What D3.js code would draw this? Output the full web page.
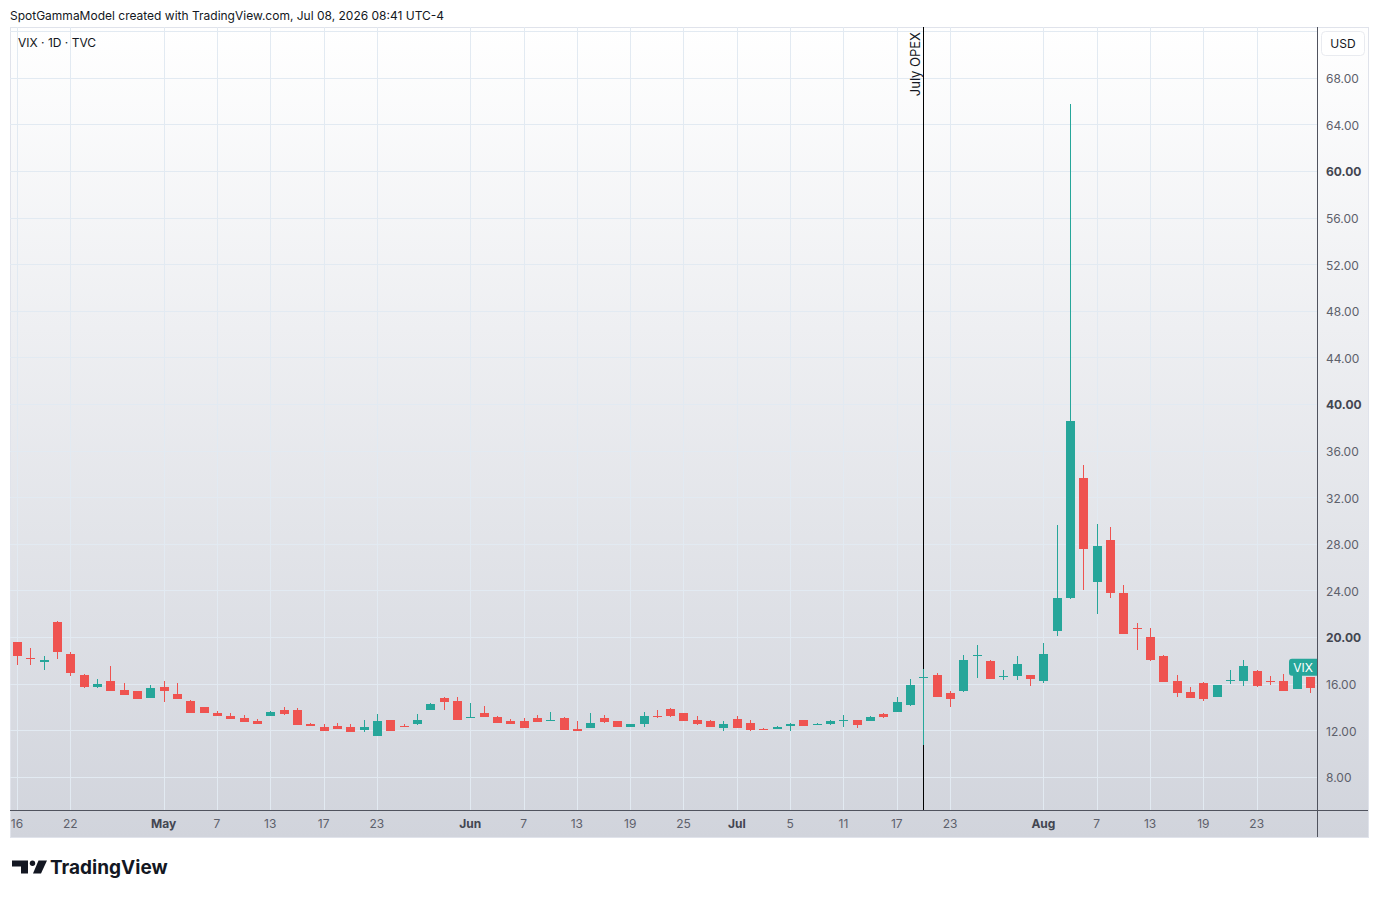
<!DOCTYPE html>
<meta charset="utf-8">
<html>
  <head>
    <title>VIX 1D TVC</title>
    <style>
      body {
        margin: 0;
        background: #ffffff;
        font-family: Inter, "Noto Sans", sans-serif;
      }
      .grid line {
        stroke: #e2eaf2;
        stroke-width: 1px;
        shape-rendering: crispEdges;
      }
      .price text {
        font-size: 12px;
        fill: #5d606b;
      }
      .price text.major {
        font-weight: 700;
        fill: #434651;
      }
      .time text {
        font-size: 12px;
        fill: #5d606b;
      }
      .time text.month {
        font-weight: 700;
        fill: #434651;
      }
      .wick {
        stroke-width: 1px;
        shape-rendering: crispEdges;
      }
      .body {
        shape-rendering: crispEdges;
      }
    </style>
  </head>

  <body>
    <script src="https://d3js.org/d3.v7.min.js"></script>
    <script>

      // bar dates (TVC daily bars)
      var dates = [
        "04-16","04-17","04-18","04-19","04-22","04-23","04-24","04-25","04-26","04-29",
        "04-30","05-01","05-02","05-03","05-06","05-07","05-08","05-09","05-10","05-13",
        "05-14","05-15","05-16","05-17","05-20","05-21","05-22","05-23","05-24","05-27",
        "05-28","05-29","05-30","05-31","06-03","06-04","06-05","06-06","06-07","06-10",
        "06-11","06-12","06-13","06-14","06-17","06-18","06-19","06-20","06-21","06-24",
        "06-25","06-26","06-27","06-28","07-01","07-02","07-03","07-04","07-05","07-08",
        "07-09","07-10","07-11","07-12","07-15","07-16","07-17","07-18","07-19","07-22",
        "07-23","07-24","07-25","07-26","07-29","07-30","07-31","08-01","08-02","08-05",
        "08-06","08-07","08-08","08-09","08-12","08-13","08-14","08-15","08-16","08-19",
        "08-20","08-21","08-22","08-23","08-26","08-27","08-28","08-29"
      ];

      var opens = [
        19.54,18.22,17.83,21.31,18.57,16.77,15.69,16.26,15.49,15.40,
        14.74,15.74,15.14,14.54,14.03,13.51,13.26,13.09,12.83,13.20,
        13.77,13.77,12.57,12.31,12.34,12.31,12.00,11.49,12.91,12.40,
        12.51,13.71,14.80,14.54,13.11,13.51,13.17,12.77,12.77,13.09,
        12.86,13.09,12.09,12.17,13.09,12.77,12.26,12.51,13.26,13.86,
        13.51,12.86,12.77,12.17,13.00,12.66,12.14,12.09,12.34,12.91,
        12.49,12.51,12.86,12.91,12.77,13.43,13.54,14.20,16.46,16.77,
        15.20,15.34,18.40,17.97,16.57,16.63,16.71,16.20,20.49,23.31,
        33.66,24.69,28.34,23.80,20.77,20.03,18.40,16.26,15.31,16.03,
        14.83,16.20,16.20,17.11,16.26,16.26,15.51,16.57
      ];
      var highs = [
        19.60,19.06,18.40,21.40,18.74,16.80,16.43,17.54,16.09,15.40,
        15.91,16.26,16.09,14.63,14.03,13.69,13.51,13.34,13.00,13.69,
        14.03,13.94,12.66,12.49,12.66,12.57,12.86,13.43,12.91,12.49,
        13.43,14.37,14.89,14.89,14.37,14.11,13.23,13.00,13.09,13.34,
        13.54,13.17,12.77,13.51,13.34,12.77,12.57,13.60,13.77,13.94,
        13.51,13.26,12.86,12.83,13.26,12.91,12.23,12.40,12.66,12.91,
        12.66,12.91,13.34,12.91,13.26,13.51,14.89,16.43,17.23,16.91,
        15.40,18.49,19.34,18.06,17.20,18.34,16.77,19.51,29.63,65.73,
        34.74,29.71,29.46,24.49,21.23,20.80,18.49,16.71,15.74,16.11,
        15.91,17.20,18.06,17.20,16.69,16.86,17.11,16.57
      ];
      var lows = [
        17.63,17.57,17.20,18.14,16.69,15.65,15.60,15.34,15.00,14.66,
        14.74,14.40,14.66,13.46,13.46,13.20,12.94,12.69,12.51,13.20,
        13.29,12.43,12.34,11.91,12.09,11.83,11.83,11.49,11.91,12.31,
        12.43,13.71,13.71,12.86,13.06,13.11,12.60,12.51,12.17,12.69,
        12.86,12.00,11.91,12.17,12.60,12.26,12.26,12.26,13.03,13.17,
        12.77,12.43,12.26,11.91,12.17,11.91,12.03,12.09,11.91,12.34,
        12.43,12.43,12.26,12.17,12.77,13.03,13.54,14.11,10.71,14.83,
        13.97,15.26,16.46,16.37,16.29,16.29,15.77,16.03,20.06,23.30,
        24.06,22.00,23.37,20.29,18.91,17.97,16.17,14.83,14.74,14.49,
        14.83,15.94,15.77,15.71,15.86,15.34,15.50,15.22
      ];
      var closes = [
        18.34,18.17,18.06,18.69,16.89,15.69,16.00,15.34,15.00,14.66,
        15.66,15.34,14.66,13.46,13.46,13.20,12.94,12.69,12.51,13.60,
        13.37,12.43,12.34,11.91,12.09,11.83,12.31,12.83,11.91,12.31,
        12.91,14.29,14.40,12.86,13.17,13.11,12.60,12.51,12.17,12.69,
        12.91,12.00,11.91,12.66,12.69,12.26,12.49,13.26,13.20,13.26,
        12.77,12.51,12.26,12.49,12.17,12.00,12.06,12.31,12.49,12.34,
        12.57,12.83,12.91,12.43,13.17,13.17,14.46,15.91,16.54,14.83,
        14.69,18.06,18.49,16.37,16.66,17.71,16.37,18.57,23.37,38.54,
        27.57,27.83,23.74,20.29,20.71,18.06,16.17,15.17,14.74,14.66,
        15.91,16.29,17.54,15.77,16.11,15.34,17.11,15.65
      ];

      var tickDates = ["04-16","04-22","05-01","05-07","05-13","05-17","05-23","06-03","06-07","06-13","06-19",
                       "06-25","07-01","07-05","07-11","07-17","07-23","08-01","08-07","08-13","08-19","08-23"];
      var tickLabels = ["16","22","May","7","13","17","23","Jun","7","13","19",
                        "25","Jul","5","11","17","23","Aug","7","13","19","23"];
      var priceTicks = [8, 12, 16, 20, 24, 28, 32, 36, 40, 44, 48, 52, 56, 60, 64, 68];
      var majorPrices = [20, 40, 60];

      var opexDate = "07-19";
      var opexLabel = "July OPEX";
      var lastLabelValue = 17.4;

      var W = 1379, H = 898;
      var pane = {left: 10, top: 27, right: 1317, bottom: 810};
      var frame = {right: 1368, bottom: 837};

      var x = d3.scaleBand().domain(dates).range([10.33, 1316.67]);
      var y = d3.scaleLinear().domain([8, 68]).range([776.8, 77.8]);
      var cx = function(d) { return x(d) + x.bandwidth() / 2; };

      var svg = d3.select("body").append("svg")
          .attr("width", W)
          .attr("height", H);

      var defs = svg.append("defs");
      var grad = defs.append("linearGradient")
          .attr("id", "bg")
          .attr("x1", 0).attr("y1", 0).attr("x2", 0).attr("y2", 1);
      grad.append("stop").attr("offset", "0%").attr("stop-color", "#ffffff");
      grad.append("stop").attr("offset", "100%").attr("stop-color", "#d1d4dc");

      defs.append("clipPath").attr("id", "paneclip")
        .append("rect")
          .attr("x", pane.left).attr("y", pane.top)
          .attr("width", pane.right - pane.left).attr("height", pane.bottom - pane.top);

      // header
      svg.append("text")
          .attr("x", 10).attr("y", 19.5)
          .style("font-size", "12px")
          .style("fill", "#131722")
          .text("SpotGammaModel created with TradingView.com, Jul 08, 2026 08:41 UTC-4");

      // chart background
      svg.append("rect")
          .attr("x", 10.5).attr("y", 27.5)
          .attr("width", frame.right - 10).attr("height", frame.bottom - 27)
          .attr("fill", "url(#bg)")
          .attr("stroke", "#e0e3eb");

      // grid
      var grid = svg.append("g").attr("class", "grid");
      grid.selectAll(".hg")
        .data(priceTicks.concat([72]))
        .enter().append("line")
          .attr("x1", pane.left).attr("x2", pane.right)
          .attr("y1", function(d) { return Math.round(y(d)) + 0.5; })
          .attr("y2", function(d) { return Math.round(y(d)) + 0.5; });
      grid.selectAll(".vg")
        .data(tickDates)
        .enter().append("line")
          .attr("y1", pane.top).attr("y2", pane.bottom)
          .attr("x1", function(d) { return Math.round(cx(d)) + 0.5; })
          .attr("x2", function(d) { return Math.round(cx(d)) + 0.5; });

      // legend
      svg.append("text")
          .attr("x", 18).attr("y", 47)
          .style("font-size", "12px")
          .style("fill", "#131722")
          .text("VIX · 1D · TVC");

      // July OPEX marker
      svg.append("line")
          .attr("x1", Math.round(cx(opexDate)) + 0.5).attr("x2", Math.round(cx(opexDate)) + 0.5)
          .attr("y1", pane.top).attr("y2", pane.bottom)
          .attr("stroke", "#000000")
          .attr("stroke-width", 1);
      svg.append("text")
          .attr("transform", "translate(" + (cx(opexDate) - 3.5) + "," + 32 + ") rotate(-90)")
          .attr("text-anchor", "end")
          .style("font-size", "13px")
          .style("fill", "#131722")
          .text(opexLabel);

      // candles
      var bars = dates.map(function(d, i) {
        return {date: d, o: opens[i], h: highs[i], l: lows[i], c: closes[i]};
      });
      var up = "#26a69a", down = "#ef5350";
      var bodyW = 9;

      var candles = svg.append("g")
          .attr("clip-path", "url(#paneclip)")
        .selectAll(".candle")
        .data(bars)
        .enter().append("g")
          .attr("class", "candle");

      candles.append("line")
          .attr("class", "wick")
          .attr("x1", function(d) { return Math.round(cx(d.date)) + 0.5; })
          .attr("x2", function(d) { return Math.round(cx(d.date)) + 0.5; })
          .attr("y1", function(d) { return y(d.h); })
          .attr("y2", function(d) { return y(d.l); })
          .attr("stroke", function(d) { return d.c >= d.o ? up : down; });

      candles.append("rect")
          .attr("class", "body")
          .attr("x", function(d) { return Math.round(cx(d.date)) + 0.5 - bodyW / 2; })
          .attr("width", bodyW)
          .attr("y", function(d) { return y(Math.max(d.o, d.c)); })
          .attr("height", function(d) { return Math.max(1, Math.abs(y(d.o) - y(d.c))); })
          .attr("fill", function(d) { return d.c >= d.o ? up : down; });

      // axes lines
      svg.append("line")
          .attr("x1", pane.left).attr("x2", frame.right)
          .attr("y1", pane.bottom + 0.5).attr("y2", pane.bottom + 0.5)
          .attr("stroke", "#50535e");
      svg.append("line")
          .attr("x1", pane.right + 0.5).attr("x2", pane.right + 0.5)
          .attr("y1", pane.top).attr("y2", frame.bottom)
          .attr("stroke", "#50535e");

      // price axis
      var priceAxis = svg.append("g")
          .attr("class", "price")
          .attr("transform", "translate(" + pane.right + ",1)")
          .call(d3.axisRight(y)
            .tickValues(priceTicks)
            .tickFormat(d3.format(".2f"))
            .tickSize(0)
            .tickPadding(9));
      priceAxis.select(".domain").remove();
      priceAxis.selectAll("text")
          .attr("class", function(d) { return majorPrices.indexOf(d) >= 0 ? "major" : null; })
          .style("font-family", "Inter, 'Noto Sans', sans-serif");

      // time axis
      var timeAxis = svg.append("g")
          .attr("class", "time")
          .attr("transform", "translate(0," + pane.bottom + ")")
          .call(d3.axisBottom(x)
            .tickValues(tickDates)
            .tickFormat(function(d, i) { return tickLabels[i]; })
            .tickSize(0)
            .tickPadding(9));
      timeAxis.select(".domain").remove();
      timeAxis.selectAll("text")
          .attr("class", function(d, i) { return isNaN(+tickLabels[i]) ? "month" : null; })
          .style("font-family", "Inter, 'Noto Sans', sans-serif");

      // last value label
      var tagY = y(lastLabelValue);
      svg.append("path")
          .attr("d", "M" + (pane.right) + "," + (tagY - 8.5) +
                     " H1292 Q1289," + (tagY - 8.5) + " 1289," + (tagY - 5.5) +
                     " V" + (tagY + 5.5) + " Q1289," + (tagY + 8.5) + " 1292," + (tagY + 8.5) +
                     " H" + pane.right + " Z")
          .attr("fill", up);
      svg.append("text")
          .attr("x", 1303).attr("y", tagY + 4.5)
          .attr("text-anchor", "middle")
          .style("font-size", "12px")
          .style("fill", "#ffffff")
          .text("VIX");

      // currency button
      svg.append("rect")
          .attr("x", 1321.5).attr("y", 31.5)
          .attr("width", 43).attr("height", 24)
          .attr("rx", 4)
          .attr("fill", "#ffffff")
          .attr("stroke", "#e9ebf0");
      svg.append("text")
          .attr("x", 1343).attr("y", 48)
          .attr("text-anchor", "middle")
          .style("font-size", "12px")
          .style("fill", "#131722")
          .text("USD");

      // TradingView logo
      var logo = svg.append("g").attr("fill", "#131722");
      logo.append("path").attr("d", "M12,860.5 H28 V873.5 H21 V866.5 H12 Z");
      logo.append("circle").attr("cx", 32.5).attr("cy", 863.2).attr("r", 2.7);
      logo.append("path").attr("d", "M38.5,860.5 H47 L41,873.5 H33 Z");
      logo.append("text")
          .attr("x", 50).attr("y", 874)
          .style("font-size", "19px")
          .style("font-weight", "700")
          .text("TradingView");

    </script>
  </body>
</html>
